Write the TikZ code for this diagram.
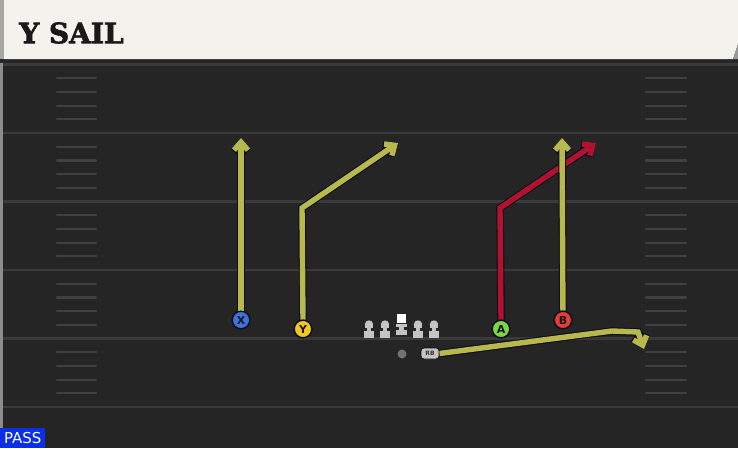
\documentclass[tikz,border=0pt]{standalone}
\usepackage{fontspec}
\newfontfamily\titlefont[FakeBold=2.2]{DejaVu Serif}
\newfontfamily\labfont{DejaVu Sans}
\usetikzlibrary{arrows.meta}
\definecolor{fieldbg}{HTML}{252525}
\definecolor{yardline}{HTML}{3A3A3A}
\definecolor{hashc}{HTML}{404040}
\definecolor{cream}{HTML}{F4F2EC}
\definecolor{outl}{HTML}{0E0E1E}
\definecolor{ry}{HTML}{B8B94C}
\definecolor{rr}{HTML}{B0122F}
\definecolor{pblue}{HTML}{3F72DA}
\definecolor{pyellow}{HTML}{F2C624}
\definecolor{pgreen}{HTML}{7ED348}
\definecolor{pred}{HTML}{E53B3B}
\definecolor{olgray}{HTML}{C4C4C4}
\definecolor{passblue}{HTML}{0A2FE6}
\tikzset{
  player/.style={circle, draw=outl, line width=1.3pt, inner sep=0pt, minimum size=17.5pt, text=black!90, font=\labfont\bfseries\fontsize{11}{11}\selectfont},
  rbstyle/.style={draw=outl, line width=0.7pt, fill=olgray, rounded corners=3pt, minimum width=18pt, minimum height=11pt, inner sep=0pt, text=black!80, font=\labfont\bfseries\fontsize{6}{6}\selectfont},
  tipstyle/.style={-{Straight Barb[length=8pt,width=14pt]}},
  yroute/.style={draw=outl, line width=7.6pt, tipstyle, postaction={draw=ry, line width=5.4pt}},
  rroute/.style={draw=outl, line width=7.6pt, tipstyle, postaction={draw=rr, line width=5.4pt}},
}
\begin{document}
\begin{tikzpicture}[x=1pt,y=-1pt]
\useasboundingbox (0,0) rectangle (738,448);
% field
\fill[fieldbg] (0,0) rectangle (738,448);
\fill[black!45] (0,0) rectangle (3,448);
\foreach \yy in {64.5,133,201.5,270,338.5,407} {
  \draw[yardline, line width=2.6pt] (3,\yy) -- (738,\yy);
}
\foreach \yy in {64.5,133,201.5,270,338.5} {
  \foreach \k in {1,2,3,4} {
    \draw[hashc, line width=2.2pt, line cap=round] (57,\yy+\k*13.7) -- (96,\yy+\k*13.7);
    \draw[hashc, line width=2.2pt, line cap=round] (646,\yy+\k*13.7) -- (686,\yy+\k*13.7);
  }
}
% header
\fill[black!85] (0,59) rectangle (738,63);
\fill[black!35] (0,0) rectangle (4,59);
\fill[cream] (4,0) -- (738,0) -- (738,44) -- (733,59) -- (4,59) -- cycle;
\fill[black!40] (738,44) -- (738,59) -- (733,59) -- cycle;
\node[anchor=west, inner sep=0pt, text=black!90, font=\titlefont\bfseries\fontsize{28}{28}\selectfont] (title) at (19,33) {Y SAIL};
% players
\node[player, fill=pblue] (X) at (241,320) {X};
\node[player, fill=pyellow] (Y) at (303,329) {Y};
\node[player, fill=pgreen] (A) at (501,329) {A};
\node[player, fill=pred] (B) at (563,320) {B};
\node[rbstyle] (RB) at (430,353.5) {RB};
\node[circle, fill=black!55, minimum size=9pt, inner sep=0pt] (QB) at (402,354) {};
% route coordinates
\coordinate (xt) at (241,138);
\coordinate (yc) at (302,208);
\coordinate (yt) at (398,143);
\coordinate (ac) at (500,208);
\coordinate (at) at (596,143);
\coordinate (bt) at (562,138);
\coordinate (r1) at (612,331);
\coordinate (r2) at (638,332);
\coordinate (rt) at (644,349);
% routes
\draw[yroute] (X) -- (xt);
\draw[yroute] (Y.north) -- (yc) -- (yt);
\draw[rroute] (A.north) -- (ac) -- (at);
\draw[yroute] (B) -- (bt);
\draw[yroute] (RB.east) -- (r1) -- (r2) -- (rt);
% redraw players on top
\node[player, fill=pblue] at (X) {X};
\node[player, fill=pyellow] at (Y) {Y};
\node[player, fill=pgreen] at (A) {A};
\node[player, fill=pred] at (B) {B};
\node[rbstyle] at (RB) {RB};
% linemen
\foreach \x in {369,385,418,434} {
  \fill[olgray] (\x,324.5) circle (4.2);
  \fill[olgray] (\x-4.2,324.5) rectangle (\x+4.2,327.5);
  \fill[olgray] (\x-2.4,326) rectangle (\x+2.4,333);
  \fill[olgray] (\x-5.4,331) rectangle (\x+5.4,338);
}
\fill[white] (397,313.5) rectangle (406,322.5);
\fill[olgray] (395.8,323.5) rectangle (407.2,327.2);
\fill[olgray] (399.3,326) rectangle (403.7,331);
\fill[olgray] (395.8,330) rectangle (407.2,334.5);
% pass tag
\node[anchor=south west, fill=passblue, minimum width=45pt, minimum height=20pt, inner sep=0pt, text=white, font=\labfont\fontsize{15}{15}\selectfont] (pass) at (0,448) {PASS};
\end{tikzpicture}
\end{document}
